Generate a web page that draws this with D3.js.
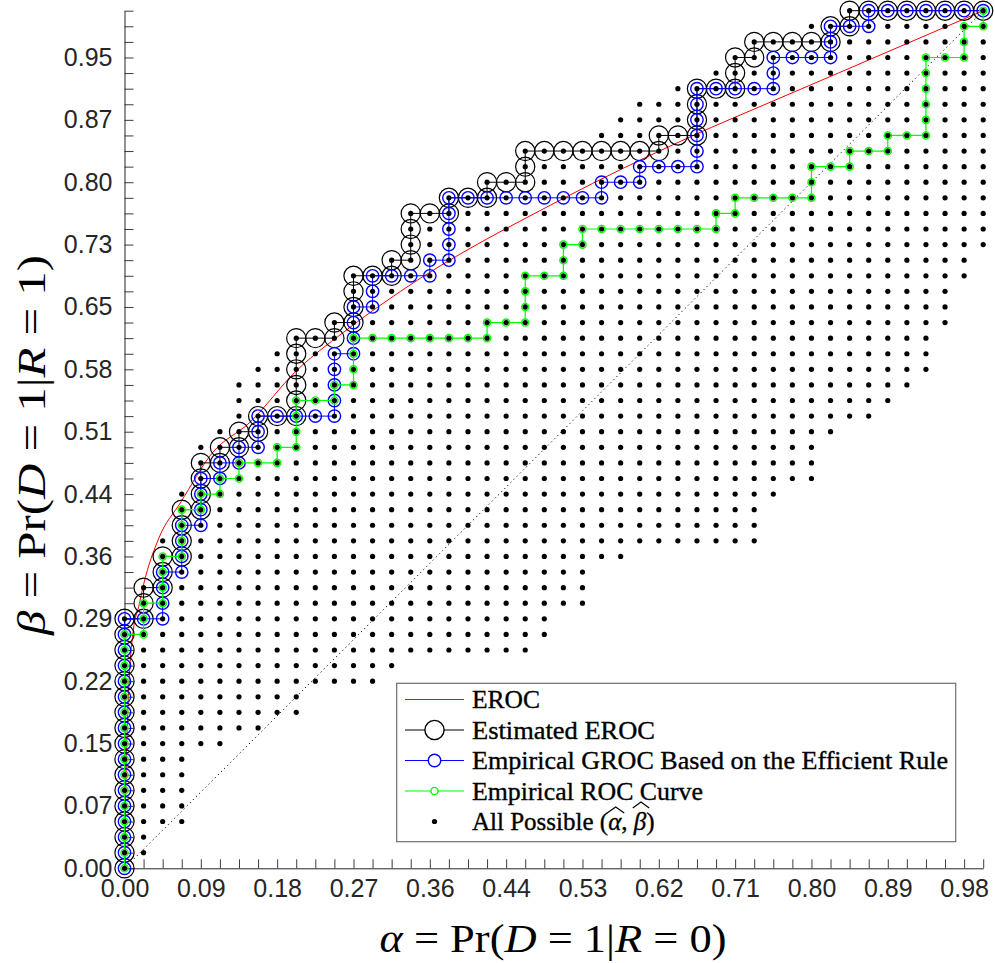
<!DOCTYPE html>
<html>
<head>
<meta charset="utf-8">
<script src="https://cdn.jsdelivr.net/npm/d3@7"></script>
<style>
  body { margin: 0; background: #fff; }
  svg { display: block; }
</style>
</head>
<body>
<svg id="chart" width="995" height="963"></svg>
<script>
// Sample sizes: R = 0 cases and R = 1 cases
const n0 = 45;
const n1 = 55;

// Tick labels (every 4th count is labelled)
const labelEvery = 4;
const xTickLabels = ["0.00","0.09","0.18","0.27","0.36","0.44","0.53","0.62","0.71","0.80","0.89","0.98"];
const yTickLabels = ["0.00","0.07","0.15","0.22","0.29","0.36","0.44","0.51","0.58","0.65","0.73","0.80","0.87","0.95"];

// Theoretical EROC (alpha, beta)
const erocAlpha = [0, 0.002, 0.005, 0.0103, 0.0165, 0.022, 0.04, 0.065, 0.102, 0.146, 0.2, 0.255, 0.321, 0.507, 0.659, 0.756, 0.833, 1];
const erocBeta  = [0, 0.12, 0.21, 0.278, 0.305, 0.33, 0.385, 0.426, 0.484, 0.52, 0.58, 0.625, 0.6725, 0.779, 0.853, 0.895, 0.928, 1];

// Estimated EROC as [false-positive count, true-positive count]
const estEroc = [[0,0],[0,1],[0,2],[0,3],[0,4],[0,5],[0,6],[0,7],[0,8],[0,9],[0,10],[0,11],[0,12],[0,13],[0,14],[0,15],[0,16],
  [1,16],[1,17],[1,18],[2,18],[2,19],[2,20],[3,20],[3,21],[3,22],[3,23],[4,23],[4,24],[4,25],[4,26],[5,26],[5,27],[6,27],[6,28],
  [7,28],[7,29],[8,29],[9,29],[9,30],[9,31],[9,32],[9,33],[9,34],[10,34],[11,34],[11,35],[12,35],[12,36],[12,37],[12,38],[13,38],
  [14,38],[14,39],[15,39],[15,40],[15,41],[15,42],[16,42],[17,42],[17,43],[18,43],[19,43],[19,44],[20,44],[21,44],[21,45],[21,46],
  [22,46],[23,46],[24,46],[25,46],[26,46],[27,46],[28,46],[28,47],[29,47],[30,47],[30,48],[30,49],[30,50],[31,50],[32,50],[32,51],
  [32,52],[33,52],[33,53],[34,53],[35,53],[36,53],[37,53],[37,54],[38,54],[38,55],[39,55],[40,55],[41,55],[42,55],[43,55],[44,55],[45,55]];

// Empirical GROC based on the efficient rule
const groc = [[0,0],[0,1],[0,2],[0,3],[0,4],[0,5],[0,6],[0,7],[0,8],[0,9],[0,10],[0,11],[0,12],[0,13],[0,14],[0,15],[0,16],
  [1,16],[2,16],[2,17],[2,18],[2,19],[3,19],[3,20],[3,21],[3,22],[4,22],[4,23],[4,24],[4,25],[5,25],[5,26],[6,26],[6,27],[7,27],
  [7,28],[7,29],[8,29],[9,29],[10,29],[11,29],[11,30],[11,31],[11,32],[11,33],[12,33],[12,34],[12,35],[12,36],[13,36],[13,37],
  [13,38],[14,38],[15,38],[16,38],[16,39],[17,39],[17,40],[17,41],[17,42],[17,43],[18,43],[19,43],[20,43],[21,43],[22,43],[23,43],
  [24,43],[25,43],[25,44],[26,44],[27,44],[27,45],[28,45],[29,45],[30,45],[30,46],[30,47],[30,48],[30,49],[30,50],[31,50],[32,50],
  [33,50],[34,50],[34,51],[34,52],[35,52],[36,52],[37,52],[37,53],[37,54],[38,54],[39,54],[39,55],[40,55],[41,55],[42,55],[43,55],
  [44,55],[45,55]];

// Empirical ROC curve
const roc = [[0,0],[0,1],[0,2],[0,3],[0,4],[0,5],[0,6],[0,7],[0,8],[0,9],[0,10],[0,11],[0,12],[0,13],[0,14],[0,15],
  [1,15],[1,16],[1,17],[2,17],[2,18],[2,19],[2,20],[3,20],[3,21],[3,22],[3,23],[4,23],[4,24],[5,24],[5,25],[6,25],[6,26],[7,26],
  [8,26],[8,27],[9,27],[9,28],[9,29],[9,30],[10,30],[11,30],[11,31],[12,31],[12,32],[12,33],[12,34],[13,34],[14,34],[15,34],[16,34],
  [17,34],[18,34],[19,34],[19,35],[20,35],[21,35],[21,36],[21,37],[21,38],[22,38],[23,38],[23,39],[23,40],[24,40],[24,41],[25,41],
  [26,41],[27,41],[28,41],[29,41],[30,41],[31,41],[31,42],[32,42],[32,43],[33,43],[34,43],[35,43],[36,43],[36,44],[36,45],[37,45],
  [38,45],[38,46],[39,46],[40,46],[40,47],[41,47],[42,47],[42,48],[42,49],[42,50],[42,51],[42,52],[43,52],[44,52],[44,53],[44,54],
  [45,54],[45,55]];

// All attainable (alpha-hat, beta-hat): for each false-positive count, lowest and highest true-positive count
const possibleLo = [0,1,3,3,8,8,9,9,10,10,12,12,12,12,13,14,14,14,14,14,14,14,15,17,17,20,20,21,21,21,21,21,21,21,24,25,25,28,29,29,30,31,32,35,38,40];
const possibleHi = [16,18,21,24,27,28,31,32,33,34,34,35,38,38,39,42,42,43,43,44,44,46,46,46,46,47,48,49,49,50,50,51,52,53,53,53,54,54,55,55,55,55,55,55,55,55];

// ---------------------------------------------------------------
const svg = d3.select("#chart");
const x = d3.scaleLinear().domain([0, 1]).range([124.5, 983.2]);
const y = d3.scaleLinear().domain([0, 1]).range([868.3, 10.7]);
const px = p => x(p[0] / n0);
const py = p => y(p[1] / n1);

const axisColor = "#262626";

// Axes with inward ticks at every count
const xAxis = d3.axisBottom(x)
  .tickValues(d3.range(n0 + 1).map(k => k / n0))
  .tickSizeInner(-9).tickSizeOuter(0).tickPadding(11)
  .tickFormat((d, k) => k % labelEvery === 0 ? xTickLabels[k / labelEvery] : "");
const yAxis = d3.axisLeft(y)
  .tickValues(d3.range(n1 + 1).map(k => k / n1))
  .tickSizeInner(-9).tickSizeOuter(0).tickPadding(12)
  .tickFormat((d, k) => k % labelEvery === 0 ? yTickLabels[k / labelEvery] : "");

const gx = svg.append("g").attr("transform", `translate(0,${y(0)})`).call(xAxis);
const gy = svg.append("g").attr("transform", `translate(${x(0)},0)`).call(yAxis);
[gx, gy].forEach(g => {
  g.select(".domain").attr("stroke", axisColor).attr("stroke-width", 1);
  g.selectAll(".tick line").attr("stroke", axisColor).attr("stroke-width", 0.9);
  g.selectAll(".tick text")
    .attr("fill", axisColor)
    .style("font-family", "'Liberation Sans', Arial, sans-serif")
    .style("font-size", "25px");
});

// Chance diagonal
svg.append("line")
  .attr("x1", x(0)).attr("y1", y(0)).attr("x2", x(1)).attr("y2", y(1))
  .attr("stroke", "#000").attr("stroke-width", 1).attr("stroke-dasharray", "1.2,3.2");

// EROC
const erocPts = erocAlpha.map((a, k) => [a, erocBeta[k]]);
svg.append("path")
  .attr("d", d3.line().x(d => x(d[0])).y(d => y(d[1])).curve(d3.curveMonotoneX)(erocPts))
  .attr("fill", "none").attr("stroke", "#ff0000").attr("stroke-width", 1);

// Step curves with circle markers
function stepCurve(data, color, r, lw, mw) {
  const g = svg.append("g");
  g.append("path")
    .attr("d", d3.line().x(px).y(py)(data))
    .attr("fill", "none").attr("stroke", color).attr("stroke-width", lw);
  g.selectAll("circle").data(data).join("circle")
    .attr("cx", px).attr("cy", py).attr("r", r)
    .attr("fill", "none").attr("stroke", color).attr("stroke-width", mw);
}
stepCurve(estEroc, "#000000", 9.6, 1, 1.2);
stepCurve(groc, "#0000ff", 6.2, 1, 1.4);
stepCurve(roc, "#00ff00", 3.6, 1.2, 1.4);

// All attainable points
const possible = [];
possibleLo.forEach((lo, i) => {
  for (let j = lo; j <= possibleHi[i]; j++) possible.push([i, j]);
});
svg.append("g").selectAll("circle").data(possible).join("circle")
  .attr("cx", px).attr("cy", py).attr("r", 2.6).attr("fill", "#000");

// Axis titles
const serif = "'Liberation Serif', 'Times New Roman', serif";
function mathText(parent, parts) {
  parts.forEach(p => parent.append("tspan").text(p[0]).style("font-style", p[1] ? "italic" : "normal"));
}
const xt = svg.append("text")
  .attr("x", 553).attr("y", 952).attr("text-anchor", "middle")
  .attr("textLength", 347).attr("lengthAdjust", "spacingAndGlyphs")
  .style("font-family", serif).style("font-size", "40px").attr("fill", "#000");
mathText(xt, [["α", true], [" = Pr(", false], ["D", true], [" = 1|", false], ["R", true], [" = 0)", false]]);

const yt = svg.append("text")
  .attr("transform", "translate(45,445) rotate(-90)").attr("text-anchor", "middle")
  .attr("textLength", 380).attr("lengthAdjust", "spacingAndGlyphs")
  .style("font-family", serif).style("font-size", "40px").attr("fill", "#000");
mathText(yt, [["β", true], [" = Pr(", false], ["D", true], [" = 1|", false], ["R", true], [" = 1)", false]]);

// Legend
const leg = { x: 396.7, y: 683.3, w: 559, h: 158.4, row0: 699.5, dy: 30.5, lx0: 405, lx1: 464, tx: 472 };
svg.append("rect").attr("x", leg.x).attr("y", leg.y).attr("width", leg.w).attr("height", leg.h)
  .attr("fill", "#fff").attr("stroke", "#6e6e6e").attr("stroke-width", 1.2);

const legendNames = ["EROC", "Estimated EROC", "Empirical GROC Based on the Efficient Rule", "Empirical ROC Curve", "All Possible"];
const legendStyles = [
  { color: "#ff0000", line: true, r: 0, lw: 1 },
  { color: "#000000", line: true, r: 9.6, lw: 1 },
  { color: "#0000ff", line: true, r: 6.2, lw: 1 },
  { color: "#00ff00", line: true, r: 3.6, lw: 1.2 },
  { color: "#000000", line: false, r: 0, lw: 0, dot: true }
];
const legendWidths = [68, 183, 476, 231, 0];
legendNames.forEach((name, k) => {
  const cy = leg.row0 + k * leg.dy;
  const st = legendStyles[k];
  const mx = (leg.lx0 + leg.lx1) / 2;
  if (st.line) svg.append("line").attr("x1", leg.lx0).attr("x2", leg.lx1).attr("y1", cy).attr("y2", cy)
    .attr("stroke", st.color).attr("stroke-width", st.lw);
  if (st.r) svg.append("circle").attr("cx", mx).attr("cy", cy).attr("r", st.r)
    .attr("fill", "#fff").attr("stroke", st.color).attr("stroke-width", 1.4);
  if (st.dot) svg.append("circle").attr("cx", mx).attr("cy", cy).attr("r", 2.6).attr("fill", "#000");
  const t = svg.append("text").attr("x", leg.tx).attr("y", cy + 8.5)
    .style("font-family", serif).style("font-size", "25px")
    .attr("fill", "#000").attr("stroke", "#000").attr("stroke-width", 0.35);
  if (k < 4) {
    t.text(name);
    t.attr("textLength", legendWidths[k]).attr("lengthAdjust", "spacingAndGlyphs");
  } else {
    t.append("tspan").text(name + " (");
    t.append("tspan").text("α").style("font-style", "italic");
    t.append("tspan").text(", ");
    t.append("tspan").text("β").style("font-style", "italic");
    t.append("tspan").text(")");
    // wide hats over alpha and beta
    const node = t.node();
    const full = node.textContent;
    const ia = full.indexOf("α"), ib = full.indexOf("β");
    [ia, ib].forEach(ci => {
      const ext = node.getExtentOfChar(ci);
      const top = ext.y + (ci === ib ? -1 : 4);
      svg.append("path")
        .attr("d", `M${ext.x - 1},${top + 1} L${ext.x + ext.width / 2 + 1},${top - 5} L${ext.x + ext.width + 3},${top + 1}`)
        .attr("fill", "none").attr("stroke", "#000").attr("stroke-width", 1.2);
    });
  }
});
</script>
</body>
</html>
